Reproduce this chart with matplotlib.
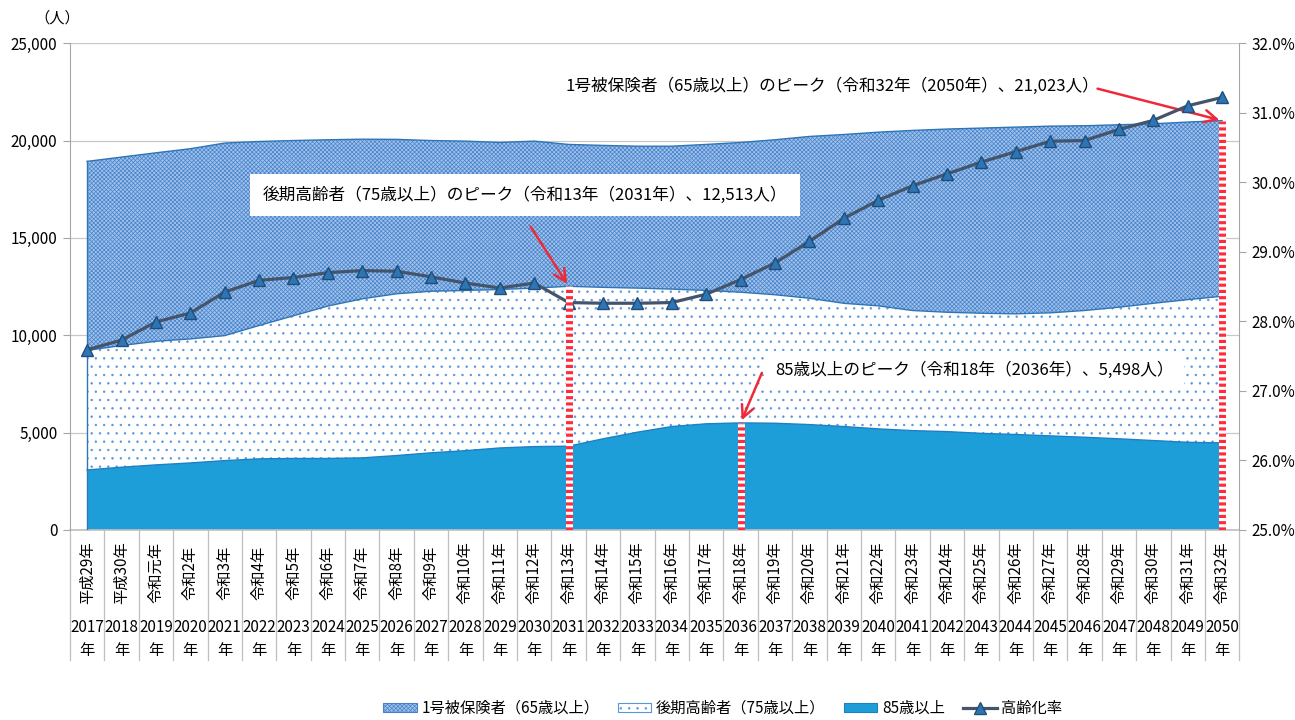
import matplotlib.pyplot as plt
from matplotlib.transforms import blended_transform_factory
from matplotlib.ticker import FuncFormatter
from matplotlib.patches import Patch

plt.rcParams['font.family'] = ['Noto Sans CJK JP', 'DejaVu Sans']
plt.rcParams['hatch.linewidth'] = 0.5

# 年次ラベル
wareki = ['平成29年', '平成30年', '令和元年'] + ['令和%d年' % i for i in range(2, 33)]
seireki = [str(y) for y in range(2017, 2051)]

# 1号被保険者（65歳以上）
total65 = [18930, 19150, 19370, 19580, 19870, 19950, 20000, 20040, 20070, 20060,
           20000, 19970, 19900, 19970, 19800, 19750, 19710, 19710, 19800, 19900,
           20040, 20210, 20310, 20430, 20520, 20590, 20640, 20690, 20740, 20760,
           20810, 20860, 20950, 21023]
# 後期高齢者（75歳以上）
over75 = [9220, 9470, 9690, 9810, 9980, 10500, 11000, 11500, 11870, 12130,
          12260, 12300, 12350, 12420, 12513, 12460, 12420, 12370, 12300, 12210,
          12080, 11900, 11640, 11510, 11270, 11180, 11130, 11100, 11150, 11270,
          11440, 11640, 11830, 12000]
# 85歳以上
over85 = [3080, 3220, 3340, 3440, 3560, 3650, 3670, 3670, 3700, 3820,
          3960, 4070, 4210, 4280, 4300, 4680, 5020, 5310, 5450, 5498,
          5480, 5410, 5310, 5190, 5100, 5050, 4960, 4900, 4830, 4760,
          4680, 4590, 4500, 4470]
# 高齢化率（%）
ratio = [27.59, 27.73, 27.99, 28.12, 28.42, 28.59, 28.63, 28.70, 28.73, 28.72,
         28.64, 28.55, 28.48, 28.55, 28.27, 28.26, 28.26, 28.27, 28.39, 28.60,
         28.84, 29.15, 29.48, 29.74, 29.95, 30.12, 30.29, 30.44, 30.59, 30.60,
         30.76, 30.89, 31.10, 31.22]

x = list(range(len(seireki)))

fig = plt.figure(figsize=(12.95, 7.2), dpi=100)
ax = fig.add_axes([0.054, 0.264, 0.903, 0.676])

# 塗り（ハッチ）と輪郭線を分けて描く
ax.fill_between(x, over75, total65, facecolor='#a0c1ea', edgecolor='#4683cc',
                hatch='xxxxxxxx', linewidth=0, zorder=2)
ax.fill_between(x, over85, over75, facecolor='white', edgecolor='#5596dc',
                hatch='..', linewidth=0, zorder=2)
ax.fill_between(x, 0, over85, facecolor='#1e9ed8', linewidth=0, zorder=2)
ax.plot(x, total65, color='#2e75b6', linewidth=1.0, zorder=3)
ax.plot(x, over75, color='#2e75b6', linewidth=1.0, zorder=3)
ax.plot(x, over85, color='#1e80c4', linewidth=1.0, zorder=3)
ax.plot([0, 0], [0, total65[0]], color='#2e75b6', linewidth=1.0, zorder=3)

ax.set_xlim(-0.5, len(x) - 0.5)
ax.set_ylim(0, 25000)
ax.set_yticks(range(0, 25001, 5000))
ax.yaxis.set_major_formatter(FuncFormatter(lambda v, p: '{:,.0f}'.format(v)))
ax.grid(axis='y', color='#c8c8c8', linewidth=0.9, zorder=0)
ax.set_axisbelow(True)
ax.set_xticks([])
ax.tick_params(axis='y', length=5, color='#a6a6a6', labelsize=11, pad=4)
for s in ['top', 'right', 'bottom']:
    ax.spines[s].set_visible(False)
ax.spines['left'].set_color('#a6a6a6')

# 高齢化率（右軸）
ax2 = ax.twinx()
l1, = ax2.plot(x, ratio, color='#44546a', linewidth=2.3, marker='^', markersize=8.5,
               markerfacecolor='#2e75b6', markeredgecolor='#1f4e79', label='高齢化率', zorder=5)
ax2.set_ylim(25, 32)
ax2.set_yticks([25, 26, 27, 28, 29, 30, 31, 32])
ax2.yaxis.set_major_formatter(FuncFormatter(lambda v, p: '%.1f%%' % v))
ax2.tick_params(axis='y', length=5, color='#a6a6a6', labelsize=11, pad=4)
for s in ['top', 'left', 'bottom']:
    ax2.spines[s].set_visible(False)
ax2.spines['right'].set_color('#a6a6a6')

# ピーク位置の縦線
for i, v in [(14, over75[14]), (19, over85[19]), (33, total65[33])]:
    ax2.plot([i, i], [25, 25 + v / 25000 * 7], color='white', linewidth=5, zorder=6,
             solid_capstyle='butt')
    ax2.plot([i, i], [25, 25 + v / 25000 * 7], color='#ff2a3a', linewidth=5, zorder=7,
             dashes=(0.45, 0.45), dash_capstyle='butt')

# 軸下の表形式ラベル
tr = blended_transform_factory(ax.transData, ax.transAxes)
for i in x:
    ax.text(i, -0.088, wareki[i], rotation=90, ha='center', va='center', fontsize=11,
            transform=tr, clip_on=False)
    ax.text(i, -0.201, seireki[i], ha='center', va='center', fontsize=11,
            transform=tr, clip_on=False)
    ax.text(i, -0.247, '年', ha='center', va='center', fontsize=11,
            transform=tr, clip_on=False)
for k in range(len(x) + 1):
    ax.plot([k - 0.5, k - 0.5], [0, -0.268], color='#bfbfbf', linewidth=0.9,
            transform=tr, clip_on=False)
ax.plot([-0.5, len(x) - 0.5], [0, 0], color='#bfbfbf', linewidth=1.2,
        transform=tr, clip_on=False)

fig.text(0.044, 0.975, '（人）', ha='center', va='center', fontsize=11)

# 注記
arrow = dict(arrowstyle='->', color='#ee2a3a', lw=1.8, mutation_scale=22)
ax.annotate('', xy=(14, over75[14]), xytext=(12.85, 15700), arrowprops=arrow, zorder=8)
ax.text(5.1, 17200, '後期高齢者（75歳以上）のピーク（令和13年（2031年）、12,513人）',
        fontsize=12, va='center', ha='left', zorder=9,
        bbox=dict(boxstyle='square,pad=0.75', facecolor='white', edgecolor='none'))
ax.annotate('', xy=(33, total65[33]), xytext=(29.3, 22700), arrowprops=arrow, zorder=8)
ax.text(13.9, 22800, '1号被保険者（65歳以上）のピーク（令和32年（2050年）、21,023人）',
        fontsize=12, va='center', ha='left', zorder=9)
ax.annotate('', xy=(19, over85[19]), xytext=(19.65, 8200), arrowprops=arrow, zorder=8)
ax.text(20.0, 8220, '85歳以上のピーク（令和18年（2036年）、5,498人）',
        fontsize=12, va='center', ha='left', zorder=9,
        bbox=dict(boxstyle='square,pad=0.6', facecolor='white', edgecolor='none'))

h1 = Patch(facecolor='#a0c1ea', edgecolor='#4683cc', hatch='xxxxxxxx', linewidth=0.8,
           label='1号被保険者（65歳以上）')
h2 = Patch(facecolor='white', edgecolor='#5596dc', hatch='..', linewidth=0.8,
           label='後期高齢者（75歳以上）')
h3 = Patch(facecolor='#1e9ed8', edgecolor='#1e80c4', linewidth=0.8, label='85歳以上')
fig.legend(handles=[h1, h2, h3, l1], loc='center', bbox_to_anchor=(0.558, 0.016),
           ncol=4, frameon=False, fontsize=11, handlelength=2.2, handleheight=0.6,
           handletextpad=0.3, columnspacing=1.2)

fig.savefig('out.png', dpi=100)
